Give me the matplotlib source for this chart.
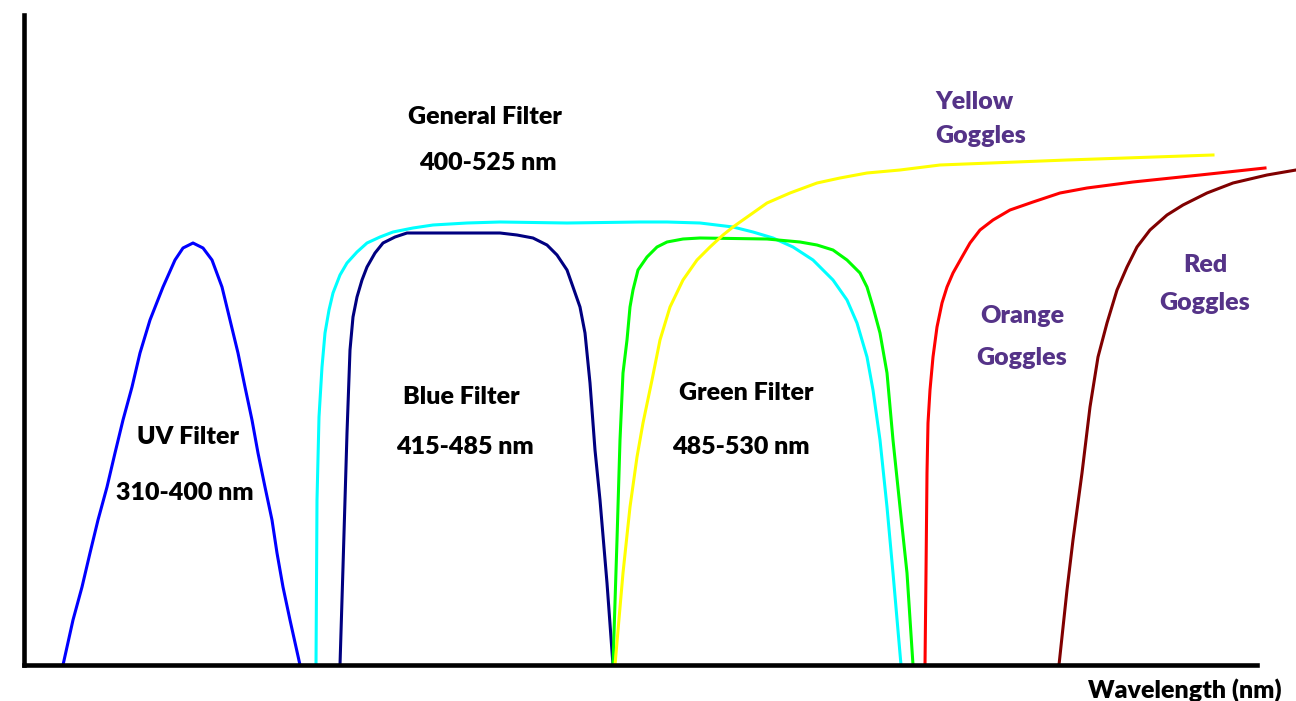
import matplotlib
matplotlib.use("Agg")
import matplotlib.pyplot as plt

# transmission curves
# x = position along the wavelength axis, y = height above the baseline
uv_x = [39, 49, 58, 66, 74, 83, 91, 99, 108, 116, 126, 139, 151, 159, 169, 179, 188,
        198, 206, 214, 221, 228, 234, 241, 248, 253, 259, 266, 276]
uv_y = [0, 45, 78, 112, 145, 178, 212, 245, 278, 312, 345, 378, 405, 417, 422, 417, 405,
        378, 345, 312, 278, 245, 212, 178, 145, 112, 78, 45, 0]

general_x = [292, 293, 295, 298, 301, 305, 309, 316, 323, 333, 343, 356, 369, 389, 409, 443, 476, 543,
             616, 643, 676, 709, 729, 749, 769, 789, 809, 823, 833, 843, 849, 856, 863, 869, 877]
general_y = [0, 165, 248, 298, 332, 355, 372, 390, 402, 413, 422, 428, 433, 437, 440, 442, 443, 442,
             443, 443, 442, 438, 433, 427, 418, 405, 385, 365, 342, 308, 275, 225, 158, 92, 0]

blue_x = [316, 319, 321, 323, 326, 329, 333, 338, 343, 351, 359, 371, 383, 476,
          493, 509, 523, 533, 543, 549, 556, 561, 566, 571, 576, 583, 589]
blue_y = [0, 98, 165, 232, 315, 348, 368, 385, 398, 412, 422, 428, 432, 432,
          430, 427, 420, 410, 395, 378, 358, 332, 282, 215, 165, 82, 0]

green_x = [589, 593, 596, 599, 603, 606, 609, 614, 623, 633, 643, 659, 676, 743,
           776, 793, 809, 823, 836, 843, 849, 856, 863, 869, 876, 883, 889]
green_y = [0, 125, 225, 292, 325, 358, 375, 395, 408, 418, 423, 426, 427, 426,
           423, 420, 415, 405, 392, 378, 358, 332, 292, 225, 158, 92, 0]

yellow_x = [591, 599, 606, 613, 619, 628, 636, 646, 659, 673, 686, 699, 709, 726,
            743, 766, 793, 816, 843, 876, 916, 1043, 1189]
yellow_y = [0, 92, 158, 208, 242, 285, 325, 358, 385, 405, 418, 430, 438, 450,
            462, 472, 482, 487, 492, 495, 500, 505, 510]

orange_x = [901, 902, 903, 904, 906, 909, 913, 918, 923, 929, 938, 946, 956, 969,
            986, 1009, 1036, 1063, 1109, 1176, 1241]
orange_y = [0, 92, 192, 242, 275, 308, 338, 362, 378, 392, 408, 422, 435, 445,
            455, 463, 472, 477, 483, 490, 497]

red_x = [1035, 1043, 1049, 1058, 1066, 1074, 1083, 1093, 1103, 1113, 1126, 1143,
         1159, 1183, 1209, 1243, 1272]
red_y = [0, 75, 125, 192, 258, 308, 342, 375, 398, 418, 435, 450,
         460, 472, 482, 490, 495]

filter_names = ["UV Filter", "General Filter", "Blue Filter", "Green Filter"]
filter_ranges = ["310-400 nm", "400-525 nm", "415-485 nm", "485-530 nm"]
goggle_names = ["Yellow\nGoggles", "Orange\nGoggles", "Red\nGoggles"]

plt.rcParams['font.family'] = ['Lato', 'DejaVu Sans']

fig = plt.figure(figsize=(12.96, 7.01), dpi=100)
ax = fig.add_axes([24/1296, 36/701, 1233/1296, 650/701])
ax.set_xlim(0, 1233)
ax.set_ylim(0, 650)
ax.set_xticks([])
ax.set_yticks([])
for side in ['top', 'right']:
    ax.spines[side].set_visible(False)
for side in ['left', 'bottom']:
    ax.spines[side].set_linewidth(3.3)
    ax.spines[side].set_color('black')

lw = 2.2
curves = [
    (uv_x, uv_y, '#0000ff'),
    (general_x, general_y, '#00ffff'),
    (blue_x, blue_y, '#000080'),
    (green_x, green_y, '#00ff00'),
    (yellow_x, yellow_y, '#ffff00'),
    (orange_x, orange_y, '#ff0000'),
    (red_x, red_y, '#800000'),
]
for xs, ys, c in curves:
    ax.plot(xs, ys, color=c, lw=lw, clip_on=False, solid_joinstyle='round')

fs = 18
fw = 'heavy'

# filter labels
name_pos = [(164, 228), (461, 548), (437, 268), (722, 272)]
range_pos = [(161, 172), (464, 502), (441, 218), (717, 218)]
for name, rng, p1, p2 in zip(filter_names, filter_ranges, name_pos, range_pos):
    ax.text(p1[0], p1[1], name, fontsize=fs, fontweight=fw, color='black',
            ha='center', va='center')
    ax.text(p2[0], p2[1], rng, fontsize=fs, fontweight=fw, color='black',
            ha='center', va='center')

# goggle labels
purple = '#553388'
ax.text(911, 546, goggle_names[0], fontsize=fs, fontweight=fw, color=purple,
        ha='left', va='center', linespacing=1.64)
ax.text(998, 328, goggle_names[1], fontsize=fs, fontweight=fw, color=purple,
        ha='center', va='center', linespacing=2.1)
ax.text(1181, 381, goggle_names[2], fontsize=fs, fontweight=fw, color=purple,
        ha='center', va='center', linespacing=1.9)

ax.text(1258, -25, "Wavelength (nm)", fontsize=fs, fontweight=fw, color='black',
        ha='right', va='center', clip_on=False)

fig.savefig("out.png", dpi=100)
